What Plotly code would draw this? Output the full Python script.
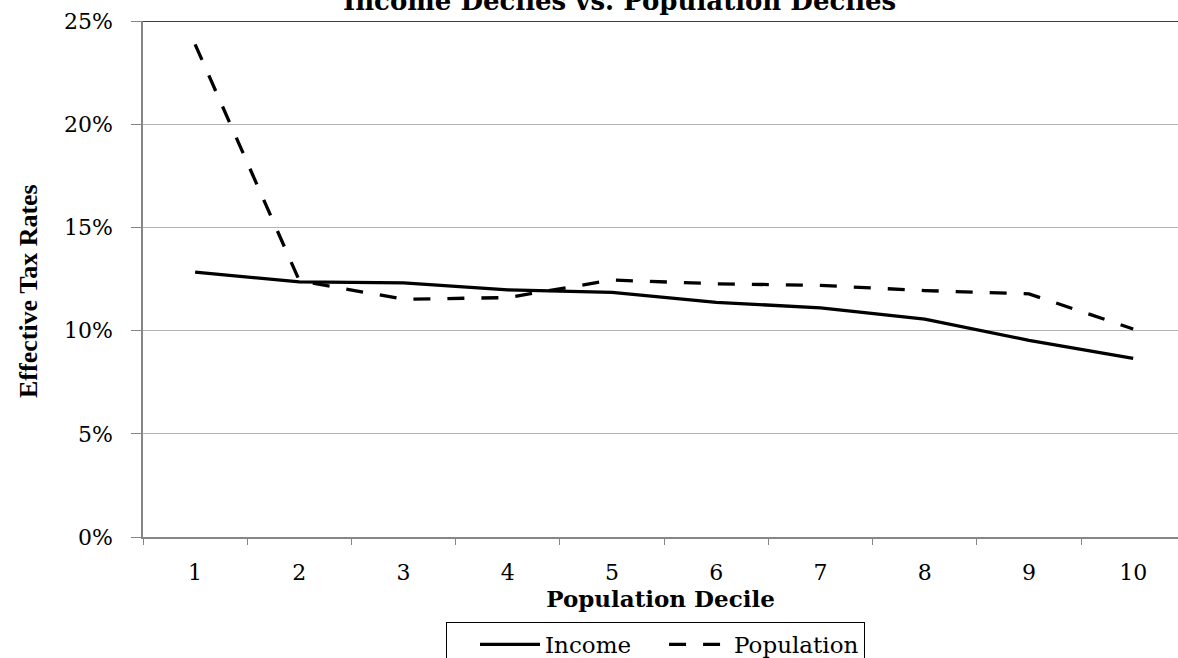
import plotly.graph_objects as go

deciles = [1, 2, 3, 4, 5, 6, 7, 8, 9, 10]
income = [0.1283, 0.1236, 0.1231, 0.1197, 0.1185, 0.1137, 0.1110, 0.1056, 0.0953, 0.0865]
population = [0.2387, 0.1242, 0.1152, 0.1160, 0.1245, 0.1227, 0.1219, 0.1194, 0.1178, 0.1008]
tick_labels = [str(d) for d in deciles]

SERIF = "DejaVu Serif"
GRAY = "#868686"

fig = go.Figure()
fig.add_trace(go.Scatter(x=deciles, y=income, name="Income", mode="lines",
                         line=dict(color="black", width=3.3)))
fig.add_trace(go.Scatter(x=deciles, y=population, name="Population", mode="lines",
                         line=dict(color="black", width=3.3, dash="17px,17px")))

fig.update_layout(
    width=1178, height=658,
    margin=dict(l=143, r=0, t=21, b=121, autoexpand=False),
    plot_bgcolor="white", paper_bgcolor="white",
    title=dict(text="<b>Income Deciles vs. Population Deciles</b>",
               font=dict(family=SERIF, size=26, color="black"),
               x=0.526, xanchor="center", y=1 - 1 / 658, yanchor="middle", yref="container"),
    showlegend=True,
    legend=dict(orientation="h", x=(446 - 143) / 1035, xanchor="left",
                y=(537 - 622) / 516, yanchor="top",
                bordercolor="black", borderwidth=1, bgcolor="white",
                font=dict(family=SERIF, size=23, color="black"),
                itemwidth=60, indentation=28),
    font=dict(family=SERIF, color="black"),
)

fig.update_xaxes(
    range=[0.5, 10.43], tickmode="array", tickvals=deciles, ticktext=tick_labels,
    ticks="", showgrid=False, zeroline=False,
    showline=True, linecolor=GRAY, linewidth=1.5,
    tickfont=dict(family=SERIF, size=22, color="black"), ticklabelstandoff=15,
    minor=dict(tick0=0.5, dtick=1, ticks="outside", ticklen=6, tickcolor=GRAY, tickwidth=1.2, showgrid=False),
    title=dict(text="<b>Population Decile</b>", font=dict(family=SERIF, size=23, color="black"), standoff=6),
)
fig.update_yaxes(
    range=[0, 0.25], dtick=0.05, tickformat=".0%",
    ticks="outside", ticklen=10, tickcolor=GRAY, tickwidth=1.2,
    showgrid=True, gridcolor="#b3b3b3", gridwidth=1.2, zeroline=False,
    showline=True, linecolor=GRAY, linewidth=1.5,
    tickfont=dict(family=SERIF, size=22, color="black"), ticklabelstandoff=14,
)

fig.add_shape(type="line", xref="paper", yref="y", x0=0, x1=1, y0=0.25, y1=0.25,
              line=dict(color="black", width=1.5), layer="above")

fig.add_annotation(text="<b>Effective Tax Rates</b>", textangle=-90,
                   xref="paper", yref="paper", x=0, y=0.5, xanchor="center", yanchor="middle",
                   xshift=-115, yshift=-12, showarrow=False,
                   font=dict(family="Liberation Serif", size=26, color="black"))

fig.write_html("out.html", config={"displayModeBar": False},
               post_script="document.body.style.margin='0';")
